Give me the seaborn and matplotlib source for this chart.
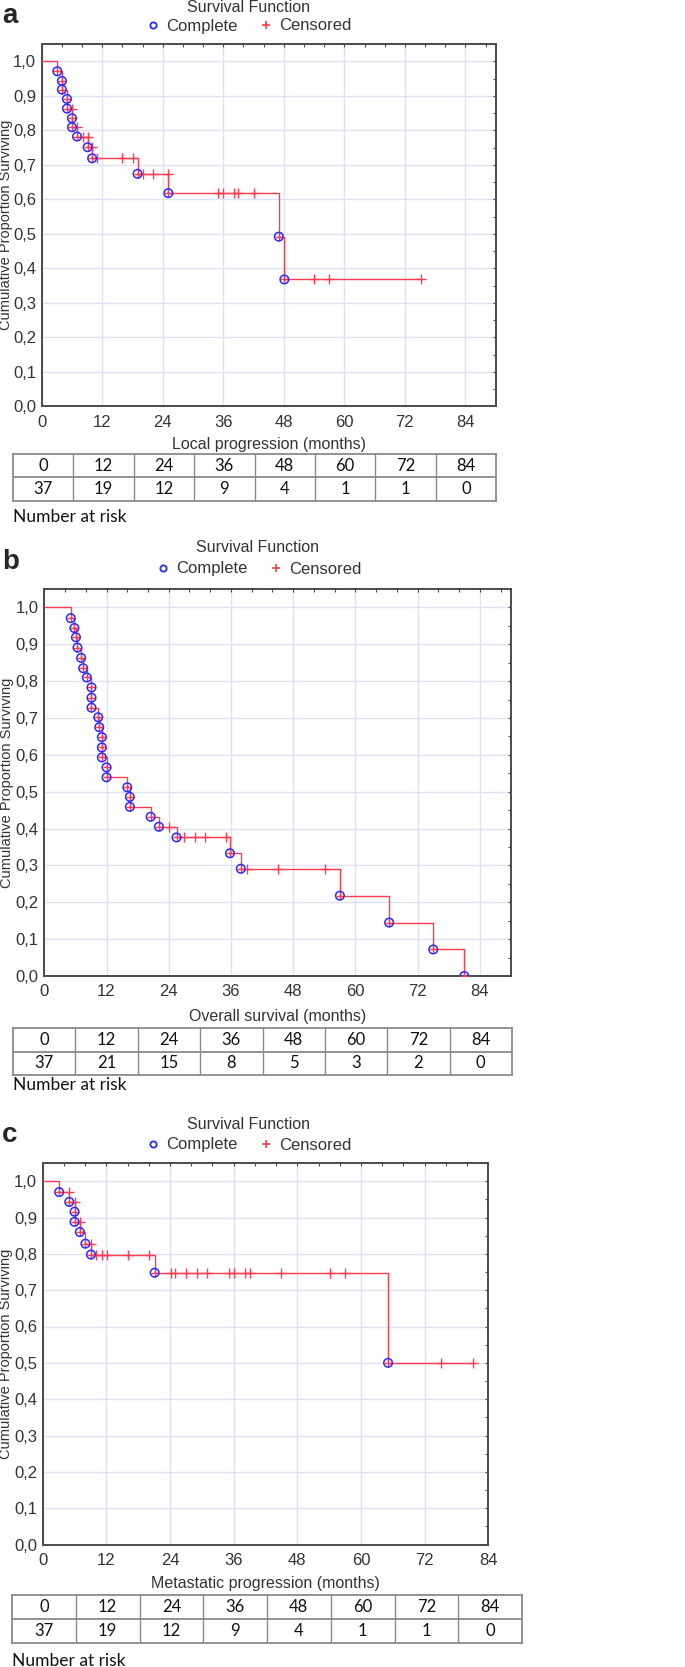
"""
Kaplan-Meier style survival panels (local progression, overall survival,
metastatic progression) with number-at-risk tables underneath.
"""

import numpy as np
import pandas as pd
import matplotlib
matplotlib.use("Agg")
import matplotlib.pyplot as plt
import seaborn as sns
from matplotlib.lines import Line2D
from matplotlib.ticker import FixedLocator, MultipleLocator, FuncFormatter

W, H = 685, 1667

# Panel a - local progression
a_event_t = [3.1, 4.0, 4.0, 5.0, 5.0, 6.0, 6.0, 7.0, 9.1, 10.0, 19.0, 25.1, 47.0, 48.1]
a_event_s = [0.971, 0.943, 0.918, 0.891, 0.863, 0.835, 0.809, 0.782, 0.751, 0.719, 0.674, 0.618, 0.492, 0.368]
a_cens_t = [6.0, 7.0, 8.1, 9.1, 10.0, 11.0, 16.0, 18.0, 20.0, 22.0, 25.1,
            35.0, 35.9, 38.1, 38.9, 42.0, 54.0, 57.0, 75.1]
a_cens_s = [0.863, 0.809, 0.782, 0.782, 0.751, 0.719, 0.719, 0.719, 0.674, 0.674, 0.674,
            0.618, 0.618, 0.618, 0.618, 0.618, 0.368, 0.368, 0.368]
a_risk = [37, 19, 12, 9, 4, 1, 1, 0]

# Panel b - overall survival
b_event_t = [5.1, 5.8, 6.1, 6.4, 7.1, 7.5, 8.2, 9.1, 9.1, 9.1, 10.4, 10.6, 11.1, 11.1, 11.1,
             12.0, 12.0, 16.0, 16.5, 16.5, 20.5, 22.1, 25.5, 35.8, 37.9, 57.0, 66.5, 75.0, 81.0]
b_event_s = [0.971, 0.944, 0.919, 0.891, 0.863, 0.835, 0.81, 0.783, 0.755, 0.728, 0.702, 0.675,
             0.648, 0.62, 0.593, 0.566, 0.539, 0.512, 0.486, 0.459, 0.432, 0.405, 0.376,
             0.333, 0.291, 0.218, 0.145, 0.072, 0.0]
b_cens_t = [24.1, 26.9, 29.1, 31.0, 35.1, 39.1, 45.1, 54.1]
b_cens_s = [0.405, 0.376, 0.376, 0.376, 0.376, 0.291, 0.291, 0.291]
b_risk = [37, 21, 15, 8, 5, 3, 2, 0]

# Panel c - metastatic progression
c_event_t = [3.1, 5.0, 6.0, 6.0, 7.0, 8.05, 9.1, 21.1, 65.1]
c_event_s = [0.97, 0.943, 0.916, 0.888, 0.86, 0.828, 0.798, 0.748, 0.5]
c_cens_t = [5.0, 6.0, 7.0, 9.1, 10.1, 11.1, 12.1, 16.0, 20.1,
            24.1, 25.0, 27.0, 29.1, 31.0, 35.1, 36.0, 38.1, 39.1, 45.0, 54.1, 57.0,
            75.1, 81.1]
c_cens_s = [0.97, 0.943, 0.888, 0.828, 0.798, 0.798, 0.798, 0.798, 0.798,
            0.748, 0.748, 0.748, 0.748, 0.748, 0.748, 0.748, 0.748, 0.748, 0.748, 0.748, 0.748,
            0.5, 0.5]
c_risk = [37, 19, 12, 9, 4, 1, 1, 0]

risk_times = [0, 12, 24, 36, 48, 60, 72, 84]
x_ticks = [0, 12, 24, 36, 48, 60, 72, 84]
y_ticks = [0.0, 0.1, 0.2, 0.3, 0.4, 0.5, 0.6, 0.7, 0.8, 0.9, 1.0]

LINE_RED = '#ff3b4e'
BLUE = '#2b2bff'
GRID = '#dde1f2'
SPINE = '#4a4a4a'
AX_FONT = ['Liberation Sans Narrow', 'Liberation Sans']
TAB_FONT = ['Lato', 'DejaVu Sans']


def rect(x0, y0, x1, y1):
    """pixel box (top-left origin) -> figure fraction rect"""
    return [x0 / W, 1 - y1 / H, (x1 - x0) / W, (y1 - y0) / H]


def fx(x):
    return x / W


def fy(y):
    return 1 - y / H


def step_frame(ev_t, ev_s, ce_t, ce_s):
    df = pd.DataFrame({
        't': [0.0] + list(ev_t) + list(ce_t),
        's': [1.0] + list(ev_s) + list(ce_s),
    })
    # time ascending, survival descending so censors sit on the upper corner
    df = df.sort_values(['t', 's'], ascending=[True, False]).reset_index(drop=True)
    return df


def draw_panel(ax, ev_t, ev_s, ce_t, ce_s, xmax):
    df = step_frame(ev_t, ev_s, ce_t, ce_s)
    sns.lineplot(data=df, x='t', y='s', sort=False, estimator=None,
                 drawstyle='steps-post', color=LINE_RED, lw=1.0, ax=ax, zorder=3)
    sns.scatterplot(x=ce_t, y=ce_s, marker='+', s=50, color=LINE_RED,
                    linewidth=1.0, ax=ax, zorder=4)
    sns.scatterplot(x=ev_t, y=ev_s, marker='+', s=32, color=LINE_RED,
                    linewidth=1.0, ax=ax, zorder=4)
    ax.scatter(ev_t, ev_s, marker='o', s=38, facecolors='none',
               edgecolors=BLUE, linewidths=1.1, zorder=5)

    ax.set_xlim(0, xmax)
    ax.set_ylim(0, 1.05)
    ax.xaxis.set_major_locator(FixedLocator(x_ticks))
    ax.yaxis.set_major_locator(FixedLocator(y_ticks))
    ax.xaxis.set_minor_locator(MultipleLocator(4))
    ax.yaxis.set_minor_locator(MultipleLocator(0.05))
    ax.yaxis.set_major_formatter(FuncFormatter(lambda v, p: f"{v:.1f}".replace('.', ',')))
    ax.grid(True, which='major', color=GRID, lw=1.0, zorder=0)
    ax.set_axisbelow(True)
    ax.tick_params(which='both', direction='in', top=True, right=True,
                   length=2.5, width=0.8, color=SPINE, labelsize=12,
                   labelcolor='#333333', pad=4)
    ax.tick_params(axis='x', which='major', pad=6)
    for lab in ax.get_xticklabels() + ax.get_yticklabels():
        lab.set_family(AX_FONT)
    for sp in ax.spines.values():
        sp.set_color(SPINE)
        sp.set_linewidth(1.4)
    ax.set_xlabel('')
    ax.set_ylabel('')


def draw_table(tax, risk):
    tax.set_xlim(0, 8)
    tax.set_ylim(0, 2)
    tax.set_xticks([])
    tax.set_yticks([])
    for sp in tax.spines.values():
        sp.set_color('#8a8a8a')
        sp.set_linewidth(1.3)
    tax.axhline(1, color='#8a8a8a', lw=1.3)
    for i in range(1, 8):
        tax.axvline(i, color='#8a8a8a', lw=1.0)
    for i, (t, n) in enumerate(zip(risk_times, risk)):
        tax.text(i + 0.5, 1.5, str(t), ha='center', va='center', fontsize=12,
                 family=TAB_FONT, color='#111111')
        tax.text(i + 0.5, 0.5, str(n), ha='center', va='center', fontsize=12,
                 family=TAB_FONT, color='#111111')


def panel_header(fig, letter, letter_y, title_x, title_y, legend_y):
    fig.text(fx(2), fy(letter_y), letter, fontsize=20, fontweight='bold',
             family='Liberation Sans', va='center', ha='left')
    fig.text(fx(title_x), fy(title_y), 'Survival Function', fontsize=11.5,
             family=AX_FONT, color='#333333', ha='center', va='center')
    handles = [
        Line2D([], [], ls='none', marker='o', ms=4.5, mfc='none', mec=BLUE, mew=1.3),
        Line2D([], [], ls='none', marker='+', ms=6, color=LINE_RED, mew=1.2),
    ]
    fig.legend(handles, ['Complete', 'Censored'], loc='center',
               bbox_to_anchor=(fx(title_x), fy(legend_y)), ncol=2, frameon=False,
               handletextpad=0.3, columnspacing=1.2, handlelength=1.0,
               prop={'family': AX_FONT, 'size': 12}, labelcolor='#333333')


def main():
    sns.set_style("white")
    plt.rcParams['font.family'] = ['Liberation Sans', 'DejaVu Sans']

    fig = plt.figure(figsize=(W / 100, H / 100), dpi=100)

    panels = [
        dict(letter='a', data=(a_event_t, a_event_s, a_cens_t, a_cens_s), risk=a_risk,
             xmax=90, xlabel='Local progression (months)',
             ax_box=(41.7, 44, 495.7, 406.5), tab_box=(13, 454, 496, 501),
             letter_y=16, title_x=248, title_y=8, legend_y=26,
             xlabel_y=445, ylabel_x=6, nar_y=517),
        dict(letter='b', data=(b_event_t, b_event_s, b_cens_t, b_cens_s), risk=b_risk,
             xmax=90, xlabel='Overall survival (months)',
             ax_box=(44.3, 589, 511, 976), tab_box=(13, 1028, 512, 1075),
             letter_y=562, title_x=258, title_y=548, legend_y=569,
             xlabel_y=1016, ylabel_x=7, nar_y=1085),
        dict(letter='c', data=(c_event_t, c_event_s, c_cens_t, c_cens_s), risk=c_risk,
             xmax=84, xlabel='Metastatic progression (months)',
             ax_box=(42.7, 1163, 488.3, 1544.5), tab_box=(12, 1595, 522, 1643),
             letter_y=1135, title_x=248, title_y=1124, legend_y=1145,
             xlabel_y=1583, ylabel_x=6, nar_y=1661),
    ]

    for p in panels:
        x0, y0, x1, y1 = p['ax_box']
        ax = fig.add_axes(rect(x0, y0, x1, y1))
        draw_panel(ax, *p['data'], xmax=p['xmax'])

        fig.text(fx((x0 + x1) / 2), fy(p['xlabel_y']), p['xlabel'], fontsize=11.5,
                 family=AX_FONT, color='#333333', ha='center', va='center')
        fig.text(fx(p['ylabel_x']), fy((y0 + y1) / 2), 'Cumulative Proportion Surviving',
                 fontsize=10.5, family=AX_FONT, color='#333333', rotation=90,
                 ha='center', va='center')

        tax = fig.add_axes(rect(*p['tab_box']))
        draw_table(tax, p['risk'])
        fig.text(fx(p['tab_box'][0]), fy(p['nar_y']), 'Number at risk', fontsize=12.5,
                 family=TAB_FONT, color='#111111', ha='left', va='center')

        panel_header(fig, p['letter'], p['letter_y'], p['title_x'], p['title_y'],
                     p['legend_y'])

    fig.savefig('out.png', dpi=100, facecolor='white')
    plt.close(fig)


if __name__ == '__main__':
    main()
